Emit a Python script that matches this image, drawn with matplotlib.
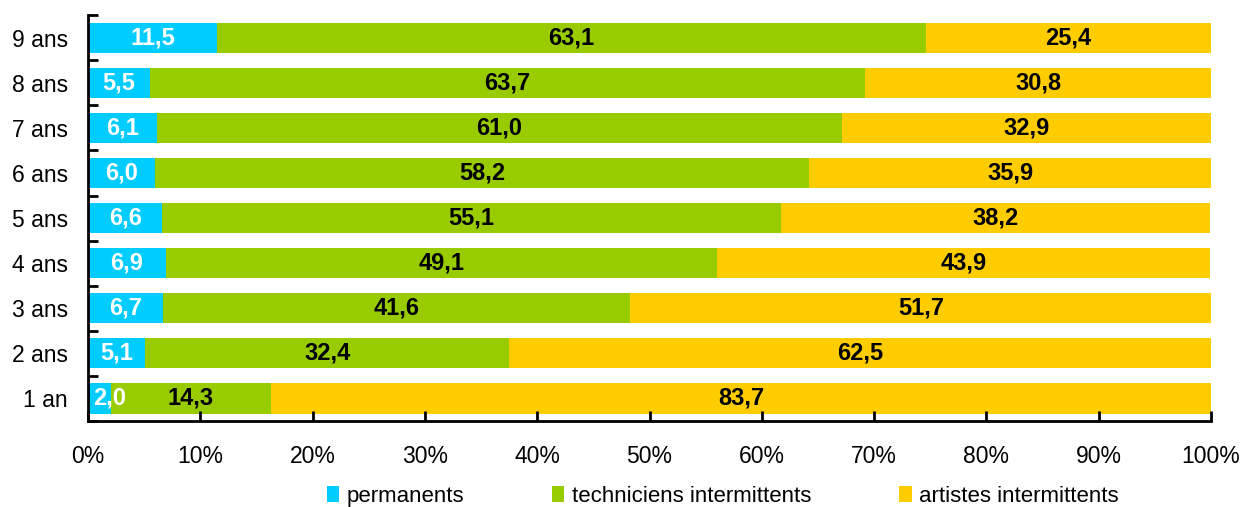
import matplotlib
matplotlib.use("Agg")
import matplotlib.pyplot as plt
from matplotlib.ticker import FixedLocator, PercentFormatter
from matplotlib.patches import Patch

plt.rcParams['font.family'] = ['Liberation Sans', 'DejaVu Sans']

categories = ["1 an", "2 ans", "3 ans", "4 ans", "5 ans", "6 ans", "7 ans", "8 ans", "9 ans"]
permanents = [2.0, 5.1, 6.7, 6.9, 6.6, 6.0, 6.1, 5.5, 11.5]
techniciens = [14.3, 32.4, 41.6, 49.1, 55.1, 58.2, 61.0, 63.7, 63.1]
artistes = [83.7, 62.5, 51.7, 43.9, 38.2, 35.9, 32.9, 30.8, 25.4]
series_names = ["permanents", "techniciens intermittents", "artistes intermittents"]
colors = ["#00CCFF", "#99CC00", "#FFCC00"]
label_colors = ["white", "black", "black"]

fig = plt.figure(figsize=(12.42, 5.07), dpi=100)
ax = fig.add_axes([0.0709, 0.1696, 0.9042, 0.8004])

y = list(range(len(categories)))
lefts = [0.0] * len(categories)
for vals, col, lc in zip([permanents, techniciens, artistes], colors, label_colors):
    ax.barh(y, vals, left=lefts, height=0.67, color=col, edgecolor='none')
    for i, v in enumerate(vals):
        mid = lefts[i] + v / 2
        if lefts[i] == 0:
            mid = max(mid, 1.9)
        ax.text(mid, y[i], f"{v:.1f}".replace(".", ","), ha='center', va='center',
                color=lc, fontsize=17, fontweight='bold')
    lefts = [l + v for l, v in zip(lefts, vals)]

ax.set_xlim(0, 100)
ax.set_ylim(-0.5, len(categories) - 0.5)
ax.set_xticks(range(0, 101, 10))
ax.xaxis.set_major_formatter(PercentFormatter(decimals=0))
ax.set_yticks(y)
ax.set_yticklabels(categories)
ax.yaxis.set_minor_locator(FixedLocator([i - 0.5 for i in range(len(categories) + 1)]))
ax.tick_params(axis='y', which='major', length=0, labelsize=16.5, pad=14.5)
ax.tick_params(axis='y', which='minor', length=7, width=2, direction='in')
ax.tick_params(axis='x', which='major', length=7, width=2, direction='in', labelsize=16.5, pad=17)

for s in ['top', 'right']:
    ax.spines[s].set_visible(False)
for s in ['left', 'bottom']:
    ax.spines[s].set_linewidth(2)

handles = [Patch(facecolor=c, edgecolor='none') for c in colors]
fig.legend(handles, series_names, loc='center', bbox_to_anchor=(0.582, 0.021), ncol=3,
           frameon=False, fontsize=16, handlelength=0.55, handleheight=0.7,
           handletextpad=0.35, columnspacing=3.95, borderpad=0)

fig.savefig("out.png", dpi=100)
